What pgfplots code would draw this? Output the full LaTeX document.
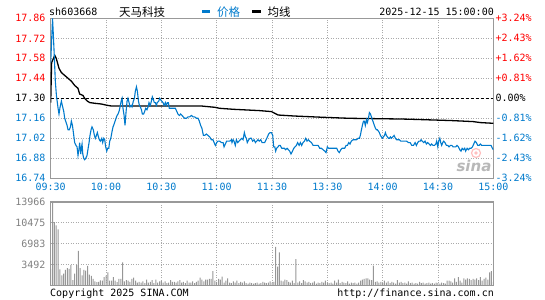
\documentclass[border=0pt]{standalone}
\usepackage{pgfplots}
\pgfplotsset{compat=1.18}
\usepackage{pgfplotstable}
\usepackage{fontspec}
\newfontfamily\mono{DejaVu Sans Mono}
\newfontfamily\cjk{Noto Sans CJK SC}
\newfontfamily\sinafont{DejaVu Sans}
\definecolor{lineblue}{RGB}{0,122,204}
\definecolor{labblue}{RGB}{0,122,204}
\definecolor{labred}{RGB}{255,0,0}
\definecolor{framegray}{RGB}{153,153,153}
\definecolor{gridgray}{RGB}{170,170,170}
\definecolor{volgray}{RGB}{150,150,150}
\definecolor{vollab}{RGB}{128,128,128}
\newcommand\tf{\mono\fontsize{10bp}{12bp}\selectfont}

\pgfplotstableread{
t p
0 17.55
1 17.86
1.45 17.74
2 17.58
2.5 17.42
3.1 17.32
4 17.23
4.5 17.19
5.1 17.24
5.8 17.28
6.3 17.25
7.05 17.21
7.6 17.16
8.1 17.14
8.9 17.11
9.4 17.08
10.1 17.08
10.7 17.10
11.2 17.14
11.8 17.11
12.5 17.04
13 16.99
13.7 16.97
14.3 16.96
14.8 16.90
15.4 16.95
15.7 16.99
16.3 16.91
16.6 16.95
17 16.98
17.4 16.91
17.9 16.88
18.4 16.87
19 16.88
19.7 16.90
20.3 16.95
20.8 16.99
21.3 17.04
21.9 17.08
22.4 17.10
23.1 17.08
23.7 17.04
24.2 17.02
24.8 17.04
25.3 17.06
25.9 17.03
26.4 17.01
26.9 17.00
27.7 17.02
28.2 16.99
28.8 17.02
29.3 17.01
29.8 16.96
30.4 16.93
30.9 16.95
31.5 16.95
32 17.00
32.6 17.02
33.3 17.07
33.8 17.10
34.4 17.12
34.9 17.14
35.4 17.16
36 17.18
36.5 17.19
37.1 17.21
37.6 17.24
38.2 17.28
38.7 17.30
39.2 17.23
39.8 17.18
40.3 17.11
40.9 17.21
41.4 17.28
41.9 17.30
42.5 17.27
43 17.24
43.6 17.25
44.1 17.24
44.8 17.28
45.4 17.30
45.9 17.35
46.5 17.38
47 17.35
47.6 17.28
48.1 17.25
48.6 17.24
49.2 17.22
49.7 17.19
50.4 17.19
51 17.21
51.5 17.23
52.2 17.22
52.8 17.24
53.3 17.27
54 17.25
54.6 17.28
55.1 17.31
55.7 17.29
56.2 17.27
56.8 17.27
57.3 17.25
57.8 17.27
58.6 17.28
59.1 17.30
59.6 17.29
60.2 17.28
60.9 17.27
61.5 17.25
62.2 17.27
62.7 17.25
63.3 17.27
63.8 17.27
64.3 17.23
65.4 17.23
66.5 17.23
67.6 17.23
68.3 17.21
69 17.19
69.8 17.18
70.5 17.19
71.2 17.18
71.9 17.17
72.7 17.16
73.6 17.16
74.5 17.17
75.4 17.17
76.3 17.18
77.2 17.17
78.1 17.17
79 17.16
79.9 17.16
80.6 17.14
81.3 17.11
82 17.09
82.8 17.04
83.5 17.04
84.4 17.05
85.3 17.04
86.2 17.03
87.1 17.01
88 17.01
88.6 16.99
89.3 16.97
90 16.99
90.7 17.00
91.6 17.00
92.6 16.99
93.5 16.99
94 16.96
94.7 16.98
95.4 17.00
96.2 17.00
97.1 17.00
98 17.01
98.3 16.99
98.9 17.01
99.4 17.00
100.1 16.97
100.7 17.01
101.4 16.99
102.1 17.00
102.8 17.01
103.6 17.02
104.3 17.01
105 17.06
105.6 17.03
106.1 17.02
106.6 16.99
107.4 17.01
108.1 17.02
108.8 17.02
109.5 17.00
110.3 17.01
111 16.99
111.7 17.00
112.4 17.01
113.1 17.00
113.9 17.01
114.6 16.99
115.3 16.99
116 16.99
116.8 17.01
117.5 17.03
118.2 17.05
119 17.06
119.7 17.06
120.4 17.04
120.9 16.96
121.5 16.96
122 16.93
122.5 16.95
123.3 16.96
123.8 16.97
124.5 16.97
125.3 16.95
126 16.95
126.7 16.95
127.4 16.94
128.2 16.95
128.9 16.94
129.6 16.93
130.3 16.91
131.1 16.93
131.8 16.95
132.5 16.96
133.2 16.97
133.9 16.99
134.7 16.97
135.4 16.99
136.1 16.97
136.8 16.99
137.6 17.00
138.3 17.02
139 17.00
139.7 17.01
140.4 17.00
141.4 16.99
142.3 16.97
143.2 16.97
144.1 16.97
145 16.97
145.9 16.95
146.8 16.95
147.7 16.94
148.6 16.93
149.3 16.92
150 16.96
150.7 16.95
151.5 16.95
152.9 16.95
154.4 16.95
155.1 16.95
155.8 16.93
156.5 16.92
157.3 16.94
158 16.95
159.4 16.95
160.2 16.97
160.9 16.97
161.6 16.99
162.3 16.98
163 17.00
164 17.01
164.8 17.01
165.8 17.01
166.7 17.02
167.4 17.02
167.9 17.04
168.5 17.08
169 17.11
169.6 17.14
170.1 17.14
170.6 17.11
171.2 17.15
171.7 17.13
172.3 17.16
172.8 17.20
173.4 17.19
173.9 17.17
174.4 17.15
175 17.13
175.5 17.11
176.1 17.09
176.6 17.08
177.1 17.08
177.7 17.07
178.2 17.06
178.8 17.04
179.3 17.03
179.9 17.02
180.4 17.03
181 17.04
181.5 17.06
182 17.04
182.6 17.03
183.1 17.02
183.7 17.02
184.2 17.03
184.7 17.02
185.5 17.03
186.2 17.04
186.9 17.02
187.6 17.01
188.4 17.01
189.1 17.01
189.8 17.00
190.5 17.00
191.2 17.00
192 17.00
193 17.00
194 16.99
194.9 16.99
195.8 16.97
196.7 16.97
197.6 16.99
198.3 16.97
199 16.99
199.7 17.00
200.5 17.00
200.8 17.01
201.5 17.00
202.3 16.99
203 17.00
203.7 16.98
204.4 16.99
205.2 16.98
205.9 16.97
206.6 16.98
207.3 16.97
208.1 16.97
208.8 16.98
209.3 17.00
209.9 16.96
210.4 17.00
211 17.02
211.5 16.99
212 16.97
212.6 16.99
213.1 17.00
213.8 16.99
214.6 16.97
215.3 16.97
216 16.96
216.7 16.97
217.5 16.97
218.2 16.96
218.9 16.96
219.6 16.96
220.3 16.97
221.1 16.96
221.8 16.94
222.5 16.93
223.1 16.95
223.8 16.94
224.5 16.95
225 16.93
225.8 16.95
226.5 16.94
227.2 16.95
227.9 16.95
228.7 16.96
229.4 16.98
230.1 17.00
230.8 16.99
231.6 16.97
232.3 16.97
233 16.98
233.7 16.97
234.5 16.97
235.2 16.97
235.9 16.97
236.6 16.97
237.3 16.97
238.1 16.97
238.8 16.97
239.5 16.95
240 16.94
}\pricedata

\pgfplotstableread{
t a
0 17.27
0.5 17.55
2.2 17.60
3 17.58
4.5 17.51
5.8 17.48
7.6 17.46
9.4 17.44
11.2 17.42
13 17.39
14.8 17.37
15.7 17.33
17.5 17.32
18.4 17.30
19.9 17.28
21.2 17.27
23.9 17.265
27.5 17.26
30.2 17.252
32.9 17.246
81.7 17.246
89 17.237
91.6 17.23
99 17.223
113 17.214
119.7 17.207
121.5 17.195
123.3 17.183
132 17.176
147.7 17.167
162 17.16
190 17.155
195.8 17.153
217.5 17.144
229 17.137
233 17.13
240 17.125
}\avgdata

\pgfplotstableread{
t v
0 2800
1 13966
2 10600
3 10050
4 9400
5 2700
6 1700
7 2000
8 2600
9 2900
10 2800
11 3400
12 900
13 2000
14 3400
15 5800
16 2900
17 1700
18 2600
19 2500
20 3300
21 1800
22 1600
23 1100
24 700
25 550
26 600
27 850
28 800
29 1400
30 1650
31 2200
32 800
33 800
34 1400
35 800
36 550
37 1100
38 1100
39 3850
40 700
41 900
42 800
43 600
44 1100
45 1300
46 800
47 500
48 600
49 500
50 700
51 400
52 1000
53 500
54 600
55 900
56 400
57 1000
58 500
59 700
60 800
61 500
62 700
63 400
64 500
65 900
66 600
67 600
68 500
69 700
70 900
71 500
72 600
73 400
74 800
75 500
76 500
77 700
78 400
79 600
80 800
81 1300
82 1000
83 700
84 1000
85 1000
86 1100
87 1100
88 2400
89 800
90 600
91 1100
92 1000
93 1500
94 500
95 800
96 1200
97 500
98 400
99 700
100 500
101 800
102 400
103 600
104 500
105 700
106 400
107 300
108 500
109 400
110 300
111 400
112 500
113 300
114 400
115 600
116 500
117 400
118 500
119 700
120 500
121 600
122 6460
123 3150
124 5520
125 800
126 700
127 1000
128 900
129 600
130 500
131 800
132 400
133 4420
134 500
135 700
136 400
137 900
138 700
139 500
140 600
141 400
142 500
143 700
144 300
145 500
146 400
147 600
148 500
149 800
150 500
151 400
152 500
153 300
154 800
155 500
156 1000
157 400
158 600
159 500
160 400
161 700
162 300
163 500
164 400
165 500
166 300
167 500
168 800
169 1000
170 1100
171 1200
172 1200
173 1000
174 900
175 3310
176 600
177 700
178 500
179 600
180 400
181 800
182 500
183 700
184 400
185 600
186 500
187 300
188 900
189 500
190 600
191 400
192 500
193 300
194 700
195 400
196 500
197 300
198 400
199 300
200 600
201 400
202 500
203 300
204 400
205 500
206 300
207 400
208 300
209 500
210 400
211 300
212 500
213 400
214 300
215 800
216 800
217 700
218 500
219 1200
220 600
221 1400
222 800
223 500
224 1200
225 1000
226 1200
227 1100
228 900
229 1100
230 1000
231 1200
232 900
233 1400
234 800
235 1100
236 1300
237 1000
238 2200
239 2400
240 600
}\voldata

\begin{document}
\begin{tikzpicture}
\useasboundingbox (0,0) rectangle (545bp,300bp);
% watermark
\draw[red!25, line width=1.2bp] (476bp,147bp) circle (4.5bp);
\fill[red!25] (476bp,147bp) circle (1.8bp);
\node[text=black!28, inner sep=0pt, font=\sinafont\bfseries\itshape\fontsize{15bp}{15bp}\selectfont] at (474bp,134.5bp) {sina};

\begin{axis}[
  at={(50.7bp,121.7bp)}, anchor=south west, scale only axis,
  width=442.6bp, height=160bp,
  xmin=0, xmax=240, ymin=16.74, ymax=17.86,
  xtick={0,30,60,90,120,150,180,210,240},
  xticklabels={09:30,10:00,10:30,11:00,11:30,13:30,14:00,14:30,15:00},
  ytick={16.74,16.88,17.02,17.16,17.30,17.44,17.58,17.72,17.86},
  yticklabels={\textcolor{labblue}{16.74},\textcolor{labblue}{16.88},\textcolor{labblue}{17.02},\textcolor{labblue}{17.16},17.30,\textcolor{labred}{17.44},\textcolor{labred}{17.58},\textcolor{labred}{17.72},\textcolor{labred}{17.86}},
  major tick length=0pt,
  grid=major,
  major grid style={dash pattern=on 1bp off 1.5bp, color=gridgray, line width=0.9bp},
  axis line style={framegray, line width=1.2bp},
  xticklabel style={font=\tf, text=labblue, anchor=base, inner sep=0pt, yshift=-12.3bp},
  yticklabel style={font=\tf, anchor=east, inner sep=0pt, xshift=-5bp},
  scaled ticks=false,
]
\addplot[black, line width=1bp, dash pattern=on 3bp off 2bp] coordinates {(0,17.30) (240,17.30)};
\addplot[black, line width=1.3bp] table[x=t,y=a]{\avgdata};
\addplot[lineblue, line width=1.1bp] table[x=t,y=p]{\pricedata};
\end{axis}

\begin{axis}[
  at={(50.7bp,121.7bp)}, anchor=south west, scale only axis,
  width=442.6bp, height=160bp,
  xmin=0, xmax=240, ymin=-3.24, ymax=3.24,
  hide x axis,
  axis line style={draw=none},
  ytick={-3.24,-2.43,-1.62,-0.81,0,0.81,1.62,2.43,3.24},
  yticklabels={\textcolor{labblue}{-3.24\%},\textcolor{labblue}{-2.43\%},\textcolor{labblue}{-1.62\%},\textcolor{labblue}{-0.81\%},0.00\%,\textcolor{labred}{+0.81\%},\textcolor{labred}{+1.62\%},\textcolor{labred}{+2.43\%},\textcolor{labred}{+3.24\%}},
  yticklabel pos=right,
  major tick length=0pt,
  yticklabel style={font=\tf, anchor=west, inner sep=0pt, xshift=2bp},
  scaled ticks=false,
]
\end{axis}

\begin{axis}[
  at={(50.7bp,14.5bp)}, anchor=south west, scale only axis,
  width=442.6bp, height=83.5bp,
  xmin=0, xmax=240, ymin=0, ymax=13966,
  xtick={0,30,60,90,120,150,180,210,240},
  xticklabels={},
  ytick={3492,6983,10475,13966},
  yticklabels={3492,6983,10475,13966},
  major tick length=0pt,
  grid=major,
  major grid style={dash pattern=on 1bp off 1.5bp, color=gridgray, line width=0.9bp},
  axis line style={framegray, line width=1.2bp},
  yticklabel style={font=\tf, text=vollab, anchor=east, inner sep=0pt, xshift=-5bp},
  scaled ticks=false,
  ybar, bar width=1bp,
]
\addplot[fill=volgray, draw=none] table[x=t,y=v]{\voldata};
\end{axis}

% header
\node[anchor=base west, inner sep=0pt, font=\tf] at (49bp,284.4bp) {sh603668};
\node[anchor=base west, inner sep=0pt, font=\cjk\fontsize{11.5bp}{13bp}\selectfont] at (119bp,283.6bp) {天马科技};
\fill[lineblue] (202bp,286.5bp) rectangle (210bp,289.5bp);
\node[anchor=base west, inner sep=0pt, text=lineblue, font=\cjk\fontsize{11.5bp}{13bp}\selectfont] at (217bp,283.6bp) {价格};
\fill[black] (252bp,286.5bp) rectangle (260.5bp,289.5bp);
\node[anchor=base west, inner sep=0pt, font=\cjk\fontsize{11.5bp}{13bp}\selectfont] at (267.5bp,283.6bp) {均线};
\node[anchor=base east, inner sep=0pt, font=\tf] at (494bp,284.4bp) {2025-12-15 15:00:00};
% footer
\node[anchor=base west, inner sep=0pt, font=\tf] at (50bp,3.6bp) {Copyright 2025 SINA.COM};
\node[anchor=base east, inner sep=0pt, font=\tf] at (494bp,3.6bp) {http://finance.sina.com.cn};
\end{tikzpicture}
\end{document}
